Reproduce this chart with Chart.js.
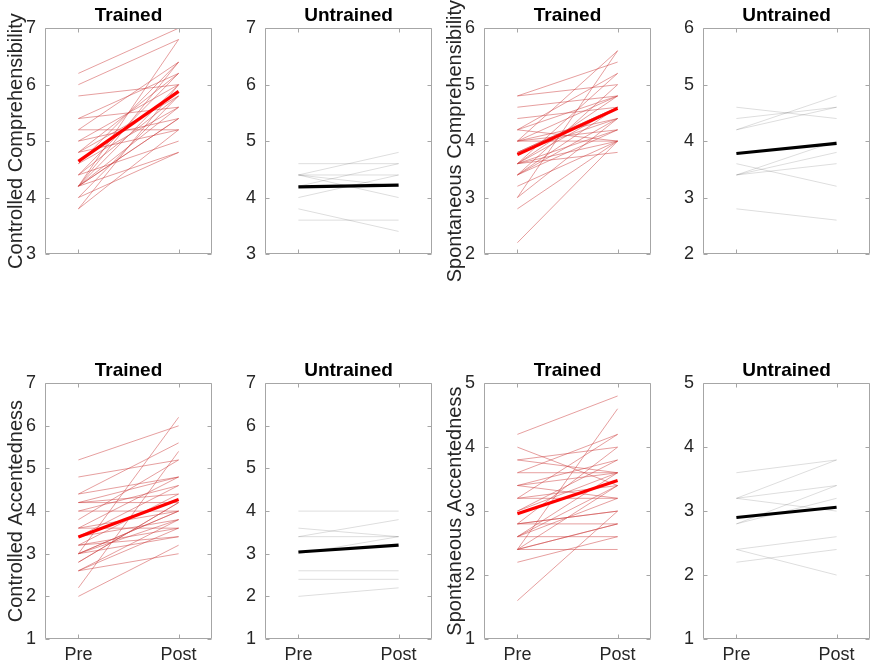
<!DOCTYPE html>
<html>
<head>
<meta charset="utf-8">
<script src="https://cdn.jsdelivr.net/npm/chart.js@4.4.1/dist/chart.umd.min.js"></script>
<style>
  html, body { margin: 0; padding: 0; background: #fff; }
  #wrap { position: relative; width: 873px; height: 668px; overflow: hidden; }
  #wrap canvas { position: absolute; }
</style>
</head>
<body>
<div id="wrap"></div>
<script>
// ---- data ----
const xLabels = ["Pre", "Post"]
const groupTitles = ["Trained", "Untrained"]

// Controlled Comprehensibility
const ccTrainedPre  = [6.2, 6.0, 5.8, 5.4, 5.4, 5.2, 5.2, 5.0, 5.0, 4.8, 4.8, 4.8, 4.6, 4.6, 4.4, 4.4, 4.4, 4.2, 4.2, 4.2, 4.2, 4.0, 4.0, 3.8, 3.8, 4.2, 4.2, 4.2]
const ccTrainedPost = [7.0, 6.8, 6.0, 6.2, 5.6, 6.4, 5.2, 6.0, 5.4, 6.2, 5.8, 5.2, 5.6, 6.4, 5.8, 5.0, 6.2, 6.8, 5.4, 4.8, 5.6, 5.8, 4.8, 6.0, 5.2, 6.4, 6.0, 5.4]
const ccTrainedMean = [4.64, 5.88]
const ccUntrainedPre  = [4.6, 4.4, 4.4, 4.4, 4.2, 4.0, 3.8, 3.6, 4.4]
const ccUntrainedPost = [4.6, 4.8, 4.4, 4.2, 4.6, 4.4, 3.4, 3.6, 4.0]
const ccUntrainedMean = [4.19, 4.22]

// Spontaneous Comprehensibility
const scTrainedPre  = [4.8, 4.8, 4.6, 4.4, 4.2, 4.2, 4.2, 4.0, 4.0, 4.0, 4.0, 3.8, 3.8, 3.6, 3.6, 3.6, 3.6, 3.4, 3.4, 3.4, 3.2, 3.0, 3.0, 2.8, 2.2, 3.8, 3.6, 4.0, 3.4, 3.6]
const scTrainedPost = [5.4, 5.0, 4.8, 4.6, 5.2, 4.0, 4.8, 5.6, 4.4, 4.0, 4.2, 4.6, 4.4, 4.6, 4.2, 4.0, 4.8, 4.4, 5.0, 4.2, 4.0, 5.6, 4.4, 4.0, 4.0, 4.6, 3.8, 4.8, 4.6, 5.2]
const scTrainedMean = [3.76, 4.58]
const scUntrainedPre  = [4.6, 4.4, 4.2, 4.2, 3.6, 3.4, 3.4, 3.4, 2.8]
const scUntrainedPost = [4.4, 4.6, 4.8, 4.6, 3.2, 3.6, 3.8, 4.0, 2.6]
const scUntrainedMean = [3.78, 3.96]

// Controlled Accentedness
const caTrainedPre  = [5.2, 4.8, 4.4, 4.4, 4.2, 4.2, 4.0, 4.0, 3.8, 3.6, 3.6, 3.4, 3.2, 3.2, 3.0, 3.0, 3.0, 2.8, 2.6, 2.6, 2.6, 2.2, 2.0, 3.4, 3.0, 4.2, 3.6, 2.8, 3.2, 3.0]
const caTrainedPost = [6.0, 5.2, 4.8, 5.6, 4.2, 4.4, 4.6, 4.0, 5.2, 4.0, 4.8, 3.8, 3.6, 4.4, 6.2, 3.8, 3.4, 4.2, 3.6, 3.0, 3.8, 5.4, 3.2, 4.6, 4.0, 4.8, 3.6, 4.2, 3.4, 4.0]
const caTrainedMean = [3.39, 4.27]
const caUntrainedPre  = [4.0, 3.6, 3.4, 3.4, 3.0, 2.6, 2.4, 2.0]
const caUntrainedPost = [4.0, 3.4, 3.8, 3.4, 3.4, 2.6, 2.4, 2.2]
const caUntrainedMean = [3.04, 3.20]

// Spontaneous Accentedness
const saTrainedPre  = [4.2, 4.0, 3.8, 3.8, 3.6, 3.4, 3.4, 3.2, 3.2, 3.0, 2.8, 2.8, 2.8, 2.6, 2.6, 2.6, 2.4, 2.4, 2.4, 2.4, 2.2, 1.6, 3.0, 3.4, 2.8, 3.6, 2.6, 2.4, 3.2]
const saTrainedPost = [4.8, 3.4, 4.0, 3.6, 3.6, 3.8, 3.2, 4.2, 3.4, 3.6, 4.0, 3.0, 2.8, 3.2, 3.6, 2.6, 4.6, 2.4, 2.8, 3.4, 2.6, 3.0, 3.8, 3.6, 3.0, 4.2, 3.4, 2.8, 3.2]
const saTrainedMean = [2.96, 3.48]
const saUntrainedPre  = [3.6, 3.2, 3.2, 3.2, 2.8, 2.8, 2.4, 2.4, 2.2]
const saUntrainedPost = [3.8, 3.8, 3.4, 3.0, 3.4, 3.2, 2.6, 2.0, 2.4]
const saUntrainedMean = [2.90, 3.06]

// ---- layout / style ----
const FONT = '"Liberation Sans", Arial, Helvetica, sans-serif'
const TEXT = "#262626"
const FRAME = "#a6a6a6"
const BOX_W = 167
const Y_AXIS_W = 45

// one entry per subplot
const panels = [
  { pre: ccTrainedPre, post: ccTrainedPost, mean: ccTrainedMean, trained: true, range: [3, 7], yTitle: "Controlled Comprehensibility", left: 45, top: 0, bottomRow: false },
  { pre: ccUntrainedPre, post: ccUntrainedPost, mean: ccUntrainedMean, trained: false, range: [3, 7], yTitle: "", left: 265, top: 0, bottomRow: false },
  { pre: scTrainedPre, post: scTrainedPost, mean: scTrainedMean, trained: true, range: [2, 6], yTitle: "Spontaneous Comprehensibility", left: 484, top: 0, bottomRow: false },
  { pre: scUntrainedPre, post: scUntrainedPost, mean: scUntrainedMean, trained: false, range: [2, 6], yTitle: "", left: 703, top: 0, bottomRow: false },
  { pre: caTrainedPre, post: caTrainedPost, mean: caTrainedMean, trained: true, range: [1, 7], yTitle: "Controlled Accentedness", left: 45, top: 355, bottomRow: true },
  { pre: caUntrainedPre, post: caUntrainedPost, mean: caUntrainedMean, trained: false, range: [1, 7], yTitle: "", left: 265, top: 355, bottomRow: true },
  { pre: saTrainedPre, post: saTrainedPost, mean: saTrainedMean, trained: true, range: [1, 5], yTitle: "Spontaneous Accentedness", left: 484, top: 355, bottomRow: true },
  { pre: saUntrainedPre, post: saUntrainedPost, mean: saUntrainedMean, trained: false, range: [1, 5], yTitle: "", left: 703, top: 355, bottomRow: true },
]

// box around the axes + small inward ticks, like matlab
const boxPlugin = {
  id: "matlabBox",
  afterDatasetsDraw(chart) {
    const { ctx, chartArea: a, scales } = chart
    const l = Math.round(a.left) + 0.5, r = Math.round(a.right) - 0.5
    const t = Math.round(a.top) + 0.5, b = Math.round(a.bottom) - 0.5
    ctx.save()
    ctx.strokeStyle = FRAME
    ctx.lineWidth = 1
    ctx.beginPath()
    ctx.rect(l, t, r - l, b - t)
    scales.y.ticks.forEach((tk) => {
      const py = Math.round(scales.y.getPixelForValue(tk.value)) + 0.5
      ctx.moveTo(l, py); ctx.lineTo(l + 4, py)
      ctx.moveTo(r, py); ctx.lineTo(r - 4, py)
    })
    scales.x.ticks.forEach((tk) => {
      const px = Math.round(scales.x.getPixelForValue(tk.value)) + 0.5
      ctx.moveTo(px, b); ctx.lineTo(px, b - 4)
      ctx.moveTo(px, t); ctx.lineTo(px, t + 4)
    })
    ctx.stroke()
    ctx.restore()
  },
}

const wrap = document.getElementById("wrap")

panels.forEach((p) => {
  const canvas = document.createElement("canvas")
  canvas.width = Y_AXIS_W + BOX_W + 3
  canvas.height = p.bottomRow ? 313 : 285
  canvas.style.left = (p.left - Y_AXIS_W) + "px"
  canvas.style.top = p.top + "px"
  wrap.appendChild(canvas)

  const thin = p.trained ? "rgba(205, 60, 60, 0.55)" : "rgba(0, 0, 0, 0.15)"

  // mean line first so it ends up on top
  const datasets = [{
    data: [{ x: 1, y: p.mean[0] }, { x: 2, y: p.mean[1] }],
    borderColor: p.trained ? "#ff0000" : "#000000",
    borderWidth: 3.2,
    pointRadius: 0,
  }]
  p.pre.forEach((v, i) => {
    datasets.push({
      data: [{ x: 1, y: v }, { x: 2, y: p.post[i] }],
      borderColor: thin,
      borderWidth: 0.9,
      pointRadius: 0,
    })
  })

  new Chart(canvas.getContext("2d"), {
    type: "line",
    data: { datasets },
    plugins: [boxPlugin],
    options: {
      responsive: false,
      animation: false,
      devicePixelRatio: 1,
      layout: { padding: { top: 0, right: 3, bottom: p.bottomRow ? 0 : 2, left: 0 } },
      plugins: {
        legend: { display: false },
        tooltip: { enabled: false },
        title: {
          display: true,
          fullSize: false, // centre over the plot box, not the canvas
          text: p.trained ? groupTitles[0] : groupTitles[1],
          color: "#000",
          font: { family: FONT, size: 19, weight: "bold" },
          padding: { top: 4, bottom: 1.4 },
        },
      },
      scales: {
        x: {
          type: "linear",
          display: p.bottomRow,
          min: 2 / 3,
          max: 7 / 3,
          afterBuildTicks: (scale) => { scale.ticks = [{ value: 1 }, { value: 2 }] },
          afterFit: (scale) => { scale.height = 29 },
          grid: { display: false, drawTicks: false },
          border: { display: false },
          ticks: {
            color: TEXT,
            padding: 5,
            font: { family: FONT, size: 18 },
            maxRotation: 0,
            callback: (v) => (v === 1 ? xLabels[0] : xLabels[1]),
          },
        },
        y: {
          min: p.range[0],
          max: p.range[1],
          afterFit: (scale) => { scale.width = Y_AXIS_W },
          grid: { display: false, drawTicks: false },
          border: { display: false },
          ticks: {
            stepSize: 1,
            color: TEXT,
            padding: 9,
            font: { family: FONT, size: 18 },
          },
          title: {
            display: p.yTitle !== "",
            text: p.yTitle,
            color: TEXT,
            font: { family: FONT, size: 20 },
            padding: { top: 4, bottom: 0 },
          },
        },
      },
    },
  })
})
</script>
</body>
</html>
